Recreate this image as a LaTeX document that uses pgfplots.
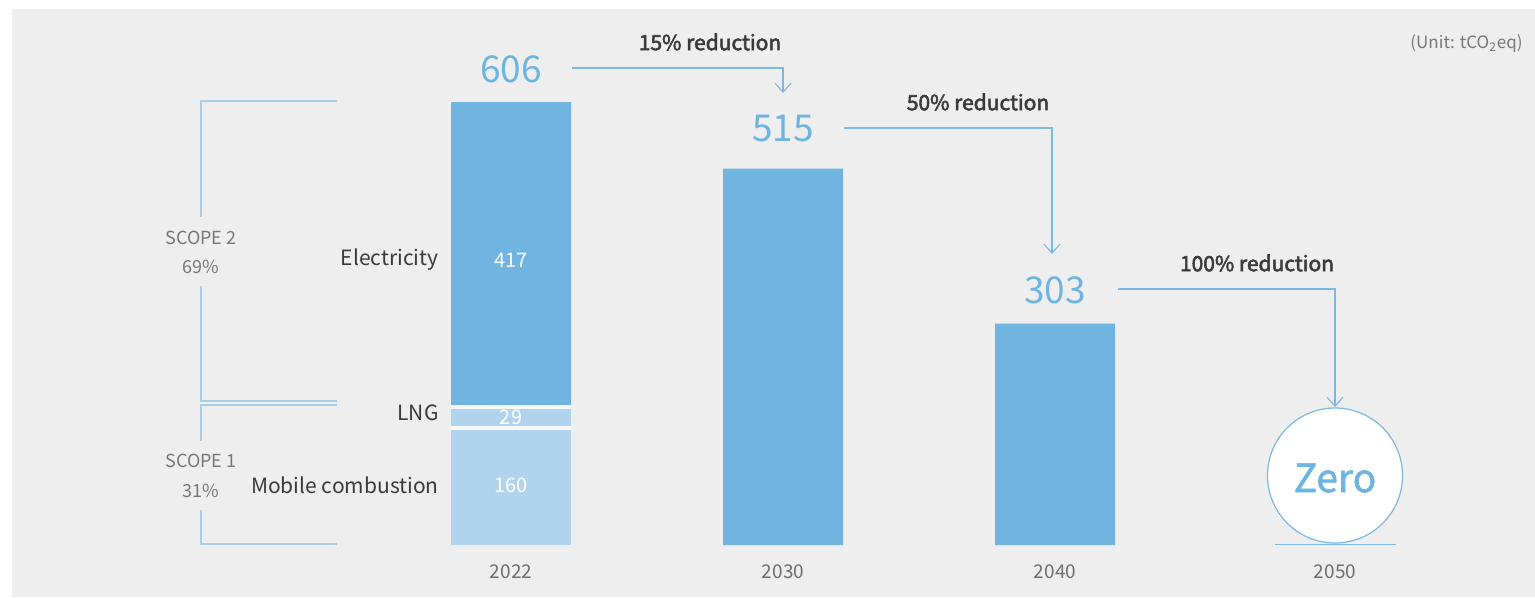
\documentclass[border=0pt]{standalone}
\usepackage{pgfplots}
\pgfplotsset{compat=1.18}
\usepackage{fontspec}
\setmainfont{Noto Sans CJK KR}
\newfontfamily\medfont{Noto Sans CJK KR}[FakeBold=2.5]
\newfontfamily\zerofont{Noto Sans CJK KR}[FakeBold=1.5]
\usetikzlibrary{arrows.meta}
\definecolor{bggray}{HTML}{EEEEEE}
\definecolor{bardark}{HTML}{70B5E0}
\definecolor{barlight}{HTML}{B0D4EE}
\definecolor{numblue}{HTML}{6DB4E1}
\definecolor{arrowblue}{HTML}{7AB9E3}
\definecolor{brkblue}{HTML}{A8CDE7}
\definecolor{txtdark}{HTML}{3A3A3A}
\definecolor{txtgray}{HTML}{777777}
\definecolor{yeargray}{HTML}{6E6E6E}
\begin{document}
\begin{tikzpicture}
% background (pixel-like coordinates: 1px = 0.5pt, y downwards)
\begin{scope}[shift={(0pt,298.5pt)}, x=0.5pt, y=-0.5pt]
  \fill[white] (0,0) rectangle (1535,597);
  \fill[bggray] (12,9) rectangle (1535,597);
\end{scope}
\begin{axis}[
  at={(0,0)}, anchor=south west,
  scale only axis, width=767.5pt, height=298.5pt,
  xmin=0, xmax=1535, ymin=-71.13, ymax=745.55,
  ybar stacked, bar width=120,
  axis line style={draw=none}, tick style={draw=none},
  ytick=\empty,
  xtick={511,783,1055,1335},
  xticklabels={2022,2030,2040,2050},
  xticklabel style={anchor=center, yshift=12.5pt, font=\fontsize{9.5pt}{11pt}\selectfont, text=yeargray},
  clip=false,
]
\addplot[fill=barlight, draw=none] coordinates {(511,160) (783,0) (1055,0)};
\addplot[fill=barlight, draw=none] coordinates {(511,29) (783,0) (1055,0)};
\addplot[fill=bardark, draw=none] coordinates {(511,417) (783,515) (1055,303)};
\end{axis}
\begin{scope}[shift={(0pt,298.5pt)}, x=0.5pt, y=-0.5pt]
  % segment separators
  \draw[bggray!40!white, line width=1.8pt] (451,428) -- (571,428);
  \draw[bggray!40!white, line width=1.8pt] (451,406.8) -- (571,406.8);
  % brackets
  \draw[brkblue, line width=0.7pt] (337,101) -- (201,101) -- (201,217);
  \draw[brkblue, line width=0.7pt] (201,286) -- (201,401) -- (337,401);
  \draw[brkblue, line width=0.7pt] (337,405) -- (201,405) -- (201,441);
  \draw[brkblue, line width=0.7pt] (201,510) -- (201,544) -- (337,544);
  \node[text=txtgray, font=\fontsize{9pt}{10pt}\selectfont] at (201,238) {SCOPE 2};
  \node[text=txtgray, font=\fontsize{9pt}{10pt}\selectfont] at (201,267) {69\%};
  \node[text=txtgray, font=\fontsize{9pt}{10pt}\selectfont] at (201,461) {SCOPE 1};
  \node[text=txtgray, font=\fontsize{9pt}{10pt}\selectfont] at (201,491) {31\%};
  % category labels
  \node[text=txtdark, anchor=east, inner sep=0pt, font=\fontsize{10.5pt}{12pt}\selectfont] at (439,260) {Electricity};
  \node[text=txtdark, anchor=east, inner sep=0pt, font=\fontsize{10.5pt}{12pt}\selectfont] at (439,413) {LNG};
  \node[text=txtdark, anchor=east, inner sep=0pt, font=\fontsize{10.5pt}{12pt}\selectfont] at (439,485) {Mobile combustion};
  % values inside bar
  \node[text=white, font=\fontsize{10pt}{12pt}\selectfont] at (511,260) {417};
  \node[text=white, font=\fontsize{10pt}{12pt}\selectfont] at (511,417) {29};
  \node[text=white, font=\fontsize{10pt}{12pt}\selectfont] at (511,485) {160};
  % totals
  \node[text=numblue, font=\fontsize{18.5pt}{20pt}\selectfont] at (511,69) {606};
  \node[text=numblue, font=\fontsize{18.5pt}{20pt}\selectfont] at (783,129) {515};
  \node[text=numblue, font=\fontsize{18.5pt}{20pt}\selectfont] at (1055,290) {303};
  % arrows
  \draw[arrowblue, line width=0.55pt, -{Straight Barb[length=4.5pt, width=8pt]}] (572,68) -- (783,68) -- (783,93);
  \draw[arrowblue, line width=0.55pt, -{Straight Barb[length=4.5pt, width=8pt]}] (844,128) -- (1052,128) -- (1052,254);
  \draw[arrowblue, line width=0.55pt, -{Straight Barb[length=4.5pt, width=8pt]}] (1118,289) -- (1335,289) -- (1335,407);
  \node[text=txtdark, font=\medfont\fontsize{10.5pt}{12pt}\selectfont] at (710,42) {15\% reduction};
  \node[text=txtdark, font=\medfont\fontsize{10.5pt}{12pt}\selectfont] at (978,102) {50\% reduction};
  \node[text=txtdark, font=\medfont\fontsize{10.5pt}{12pt}\selectfont] at (1257,263) {100\% reduction};
  % zero circle
  \draw[arrowblue, line width=0.6pt] (1275,544.5) -- (1396,544.5);
  \draw[arrowblue, fill=white, line width=0.6pt] (1335,475.5) circle[radius=33.75pt];
  \node[text=numblue, font=\zerofont\fontsize{19.5pt}{22pt}\selectfont] at (1335,478) {Zero};
  % unit
  \node[text=txtgray, anchor=east, inner sep=0pt, font=\fontsize{8.5pt}{10pt}\selectfont] at (1523,43) {(Unit: tCO\textsubscript{2}eq)};
\end{scope}
\end{tikzpicture}
\end{document}
